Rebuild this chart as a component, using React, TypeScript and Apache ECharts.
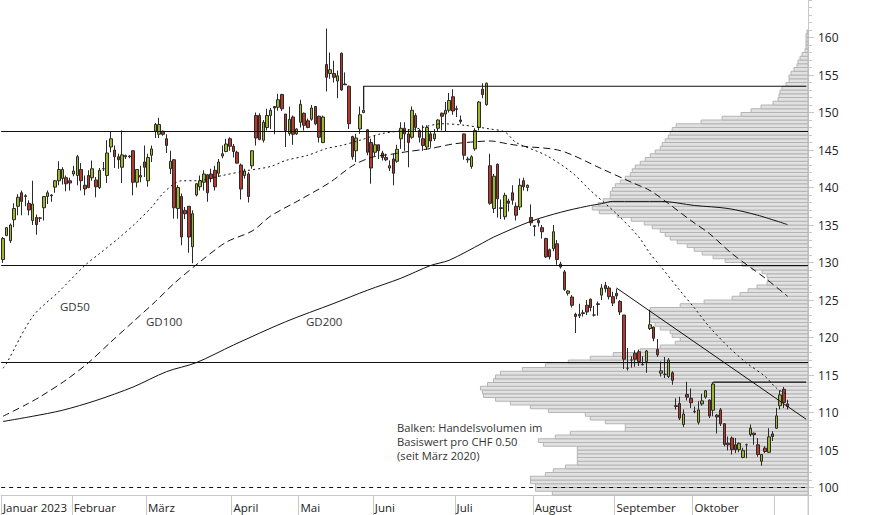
import React, { useEffect, useRef } from 'react';
import * as echarts from 'echarts';

// ---------- categories (trading-day slots) ----------
const SLOT_COUNT = 217;
const monthStartSlots = [0, 19, 39, 62, 80, 100, 122, 143, 165, 186, 208];
const monthLabels = ['Januar 2023', 'Februar', 'März', 'April', 'Mai', 'Juni', 'Juli', 'August', 'September', 'Oktober', ''];

// ---------- candles: [open, close, low, high] ----------
const candles = [
  [130.4, 133.2, 129.95, 133.4], [133.6, 134.65, 133.5, 134.7], [132.9, 135.0, 132.6, 135.2], [135.7, 137.2, 134.7, 137.9],
  [137.5, 138.7, 136.3, 139.1], [139.3, 138.15, 136.3, 139.6], [138.9, 138.8, 137.5, 139.1], [137.9, 137.0, 136.3, 138.3],
  [135.6, 137.8, 135.0, 140.9], [136.0, 135.05, 133.7, 136.4], [135.9, 135.95, 135.4, 136.05], [137.3, 138.8, 135.6, 138.8],
  [138.8, 139.3, 137.8, 139.6], [138.9, 139.0, 138.1, 139.1], [140.05, 140.9, 139.3, 141.0], [140.9, 142.4, 140.3, 143.5],
  [141.2, 142.4, 140.4, 142.7], [141.3, 140.5, 139.5, 141.6], [140.9, 140.6, 139.6, 141.3], [141.8, 142.2, 141.5, 142.9],
  [141.6, 144.1, 140.3, 144.35], [142.4, 140.9, 139.6, 143.25], [140.3, 139.8, 138.95, 141.6], [141.6, 140.0, 139.9, 142.3],
  [141.3, 142.5, 140.9, 143.6], [141.0, 140.1, 138.7, 141.4], [140.0, 142.3, 139.8, 142.6], [142.5, 142.5, 142.2, 143.4],
  [141.6, 144.6, 140.6, 146.3], [145.4, 146.5, 144.7, 147.4], [145.0, 144.1, 142.6, 145.6], [144.1, 143.7, 142.5, 144.5],
  [142.7, 144.35, 140.6, 147.6], [144.25, 144.1, 143.8, 144.4], [144.1, 144.2, 143.9, 144.3], [144.9, 140.7, 138.95, 145.0],
  [140.7, 142.4, 140.0, 142.4], [141.4, 141.6, 140.7, 142.9], [143.4, 142.7, 141.4, 145.6], [140.9, 144.0, 140.1, 144.5],
  [144.3, 145.15, 143.4, 145.6], [147.5, 148.4, 146.6, 148.6], [147.1, 148.4, 146.6, 149.3], [147.5, 147.1, 146.9, 147.6],
  [146.5, 145.6, 144.6, 147.1], [142.5, 143.5, 141.8, 144.9], [143.7, 137.3, 135.85, 143.8], [137.2, 140.0, 135.85, 140.3],
  [138.8, 133.4, 132.3, 139.2], [136.95, 136.5, 135.8, 137.4], [137.5, 133.4, 131.3, 137.5], [132.1, 136.5, 129.9, 136.95],
  [139.0, 140.5, 138.8, 140.6], [140.1, 140.9, 139.6, 141.6], [140.7, 141.8, 139.6, 142.3], [141.7, 139.3, 138.1, 141.8],
  [141.8, 141.2, 140.7, 142.5], [142.3, 140.1, 139.6, 142.9], [141.9, 143.4, 141.4, 143.8], [144.2, 144.5, 143.9, 145.6],
  [144.8, 145.8, 144.7, 146.5], [146.5, 145.5, 144.9, 146.7], [145.5, 144.8, 144.0, 145.8], [144.7, 143.25, 143.2, 144.9],
  [143.0, 139.8, 138.4, 143.2], [141.6, 142.2, 141.2, 142.5], [141.8, 138.8, 138.0, 142.05], [142.9, 144.9, 142.5, 145.0],
  [149.6, 146.6, 145.6, 150.0], [149.6, 146.4, 146.3, 149.9], [146.3, 148.7, 146.0, 149.0], [148.0, 149.6, 147.6, 150.5],
  [149.6, 150.3, 147.8, 150.6], [150.8, 150.6, 147.1, 150.8], [150.7, 151.7, 150.25, 152.5], [152.4, 150.5, 150.2, 152.5],
  [149.8, 147.6, 145.4, 149.8], [147.2, 149.1, 146.9, 150.8], [149.4, 147.1, 145.7, 149.6], [147.15, 147.8, 147.0, 147.9],
  [148.7, 151.1, 148.0, 151.7], [149.9, 148.3, 147.6, 150.0], [148.9, 148.0, 147.9, 149.2], [149.1, 150.6, 148.9, 151.0],
  [150.8, 148.5, 148.3, 150.8], [149.5, 146.7, 146.0, 149.6], [146.0, 149.4, 145.9, 149.6], [156.4, 154.7, 152.8, 161.2],
  [155.2, 155.7, 154.5, 158.0], [155.2, 154.7, 154.0, 156.9], [154.2, 154.9, 151.9, 155.6], [157.9, 153.0, 152.9, 158.0],
  [153.8, 153.7, 153.66, 155.35], [153.5, 148.5, 147.8, 153.6], [146.8, 144.1, 143.7, 146.9], [144.9, 146.6, 143.4, 147.15],
  [147.8, 149.7, 147.15, 150.8], [150.0, 150.3, 149.9, 150.4], [147.7, 144.7, 144.3, 147.8], [146.0, 142.6, 140.5, 146.5],
  [144.7, 145.7, 144.2, 146.9], [145.7, 144.9, 143.8, 145.7], [144.6, 144.0, 143.6, 144.9], [144.0, 143.7, 143.5, 144.5],
  [142.6, 142.9, 142.2, 143.6], [143.8, 141.9, 140.3, 144.5], [143.5, 145.1, 143.3, 145.7], [146.5, 147.9, 145.15, 148.7],
  [147.9, 147.15, 144.9, 148.7], [147.15, 146.0, 142.7, 147.8], [146.7, 150.3, 146.5, 150.8], [149.6, 148.0, 147.4, 149.9],
  [147.6, 146.7, 146.0, 147.8], [146.5, 145.6, 144.9, 148.3], [145.4, 148.0, 145.0, 148.3], [147.15, 146.2, 145.3, 147.4],
  [146.5, 147.15, 146.2, 147.8], [147.9, 149.0, 147.5, 149.1], [149.9, 149.5, 147.6, 150.0], [149.8, 150.3, 147.4, 151.4],
  [150.3, 151.6, 150.0, 152.6], [152.1, 150.2, 149.7, 153.1], [150.5, 150.4, 149.4, 150.9], [149.0, 148.8, 148.5, 149.6],
  [147.15, 144.3, 143.7, 147.2], [143.8, 143.7, 143.3, 144.1], [142.8, 144.1, 142.5, 144.3], [145.15, 147.6, 144.9, 147.9],
  [148.0, 151.4, 147.6, 151.5], [153.1, 152.4, 151.9, 153.9], [151.05, 153.9, 150.9, 154.0], [142.9, 137.9, 137.7, 144.5],
  [137.2, 141.5, 136.6, 141.8], [143.1, 138.5, 136.0, 143.2], [137.2, 137.3, 135.8, 138.4], [136.1, 138.95, 135.7, 139.3],
  [138.2, 137.9, 136.8, 138.5], [139.3, 138.3, 137.7, 140.3], [137.5, 136.3, 135.6, 138.0], [137.4, 140.3, 137.0, 141.2],
  [140.9, 140.1, 139.6, 141.3], [140.0, 140.3, 139.5, 140.4], [136.0, 135.3, 134.9, 137.75], [134.8, 134.9, 133.5, 135.0],
  [135.6, 135.3, 134.8, 135.8], [134.65, 134.1, 133.2, 135.0], [133.2, 130.75, 130.6, 133.3], [131.7, 130.75, 130.4, 131.85],
  [131.85, 134.1, 131.5, 135.0], [132.5, 130.4, 129.7, 133.0], [129.8, 129.4, 129.2, 130.1], [128.75, 126.4, 126.2, 129.0],
  [125.9, 126.2, 125.6, 126.3], [125.4, 124.3, 124.0, 125.65], [123.1, 122.8, 120.6, 123.3], [123.1, 122.9, 122.6, 124.5],
  [123.2, 123.3, 122.8, 123.7], [124.3, 123.4, 123.0, 125.0], [125.1, 124.0, 123.5, 125.2], [123.0, 123.0, 122.8, 124.2],
  [124.4, 124.5, 122.9, 124.8], [125.65, 126.6, 125.0, 127.1], [126.95, 126.5, 126.0, 127.4], [126.6, 125.45, 125.07, 126.85],
  [125.45, 124.6, 124.2, 126.1], [125.9, 125.55, 125.1, 126.5], [124.8, 123.4, 123.0, 125.0], [123.0, 117.1, 115.8, 123.0],
  [115.9, 115.9, 115.6, 118.6], [117.0, 117.0, 116.0, 117.5], [117.9, 117.1, 116.1, 118.3], [118.1, 116.8, 116.2, 118.4],
  [116.4, 116.35, 116.3, 117.5], [116.8, 118.2, 115.3, 118.35], [121.2, 121.7, 121.0, 123.7], [121.4, 119.9, 119.5, 121.45],
  [118.4, 117.7, 117.4, 119.8], [115.25, 115.55, 114.8, 116.8], [115.1, 115.1, 114.6, 117.4], [114.8, 117.0, 114.6, 117.25],
  [115.3, 114.3, 113.7, 115.5], [110.9, 110.8, 110.4, 111.9], [111.2, 109.25, 109.0, 112.1], [108.4, 109.8, 108.06, 110.4],
  [112.4, 112.05, 111.6, 114.1], [111.9, 111.3, 110.6, 113.2], [110.15, 110.1, 109.9, 110.8], [108.7, 110.35, 108.4, 111.5],
  [111.15, 111.55, 110.9, 112.5], [112.05, 112.9, 111.85, 113.0], [111.65, 109.55, 109.25, 111.75], [110.3, 113.8, 109.5, 114.05],
  [109.65, 109.4, 107.2, 109.8], [110.35, 108.5, 108.2, 110.6], [108.5, 105.75, 105.5, 108.6], [105.9, 105.7, 104.95, 106.8],
  [106.6, 105.05, 104.4, 106.8], [105.7, 105.05, 104.6, 106.6], [105.05, 105.9, 104.7, 106.0], [104.0, 104.95, 103.9, 105.3],
  [105.7, 105.7, 103.9, 105.85], [107.05, 107.9, 106.8, 108.4], [107.25, 107.05, 105.7, 107.3], [105.7, 104.4, 104.1, 106.6],
  [103.5, 104.4, 102.9, 104.4], [105.25, 104.8, 104.6, 105.5], [104.7, 106.75, 104.6, 107.9], [107.15, 106.8, 106.2, 107.5],
  [107.9, 109.55, 107.8, 110.6], [110.9, 112.35, 110.4, 112.95], [113.1, 111.35, 110.6, 113.4], [111.15, 110.8, 110.4, 111.7],
];

// ---------- moving averages: [slot, value] ----------
const gd50 = [
  [0, 115.9], [1, 116.6], [8, 122.8], [15, 126.1], [22, 129.6], [26, 131.2], [31, 133.2], [36, 135.4], [40, 137.4],
  [43, 139.2], [46, 140.5], [48, 140.9], [52, 140.9], [59, 141.6], [65, 142.2], [72, 142.8], [76, 143.6], [82, 144.3],
  [87, 145.2], [91, 145.6], [96, 146.3], [102, 147.2], [111, 147.8], [118, 148.5], [124, 148.3], [131, 147.8],
  [135, 147.4], [138, 146.0], [146, 144.3], [153, 142.0], [158, 139.6], [165, 136.5], [171, 133.4], [174, 131.2],
  [177, 129.4], [182, 126.3], [186, 123.9], [190, 121.4], [195, 118.8], [200, 116.6], [205, 114.8], [208, 113.25], [211, 112.35],
];
const gd100 = [
  [0, 109.5], [6, 111.0], [10, 112.1], [17, 114.35], [23, 116.65], [29, 119.4], [35, 122.1], [41, 124.8], [46, 127.2],
  [53, 130.1], [60, 132.7], [67, 134.2], [72, 136.2], [80, 138.4], [88, 140.7], [94, 142.9], [99, 144.0], [104, 144.4],
  [109, 144.8], [115, 145.2], [121, 145.8], [127, 146.1], [131, 146.2], [136, 145.8], [140, 145.5], [150, 144.9],
  [161, 142.5], [169, 140.7], [174, 139.6], [179, 137.85], [185, 135.6], [190, 133.85], [196, 131.2], [205, 127.9], [211, 125.5],
];
const gd200 = [
  [0, 108.8], [8, 109.5], [16, 110.3], [25, 111.6], [35, 113.4], [44, 115.45], [52, 116.65], [62, 119.0], [76, 122.1],
  [89, 124.55], [98, 126.3], [107, 127.9], [115, 129.6], [120, 130.3], [129, 132.6], [132, 133.4], [142, 135.5],
  [150, 136.7], [157, 137.5], [161, 137.85], [164, 138.15], [177, 138.15], [186, 137.6], [195, 137.2], [203, 136.3], [211, 135.05],
];

// ---------- support / resistance ----------
const fullLevels = [147.5, 129.6, 116.7];
const resistanceHigh = [[97, 150.4], [97, 153.5], [216, 153.5]];
const resistanceLow = [[191, 114.05], [216, 114.05]];
const trendLine = [[165, 126.6], [216, 109.1]];
const dashedLevel = 100;

// ---------- volume profile (per CHF 0.50 bin, lower bound) ----------
const profilePrice = [
  99.0, 99.5, 100.0, 100.5, 101.0, 101.5, 102.0, 102.5, 103.0, 103.5, 104.0, 104.5, 105.0, 105.5, 106.0, 106.5,
  107.0, 107.5, 108.0, 108.5, 109.0, 109.5, 110.0, 110.5, 111.0, 111.5, 112.0, 112.5, 113.0, 113.5, 114.0, 114.5,
  115.0, 115.5, 116.0, 116.5, 117.0, 117.5, 118.0, 118.5, 119.0, 119.5, 120.0, 120.5, 121.0, 121.5, 122.0, 122.5,
  123.0, 123.5, 124.0, 124.5, 125.0, 125.5, 126.0, 126.5, 127.0, 127.5, 128.0, 128.5, 129.0, 129.5, 130.0, 130.5,
  131.0, 131.5, 132.0, 132.5, 133.0, 133.5, 134.0, 134.5, 135.0, 135.5, 136.0, 136.5, 137.0, 137.5, 138.0, 138.5,
  139.0, 139.5, 140.0, 140.5, 141.0, 141.5, 142.0, 142.5, 143.0, 143.5, 144.0, 144.5, 145.0, 145.5, 146.0, 146.5,
  147.0, 147.5, 148.0, 148.5, 149.0, 149.5, 150.0, 150.5, 151.0, 151.5, 152.0, 152.5, 153.0, 153.5, 154.0, 154.5,
  155.0, 155.5, 156.0, 156.5, 157.0, 157.5, 158.0, 158.5, 159.0, 159.5, 160.0, 160.5,
];
const profileVolume = [
  256, 273, 273, 278, 278, 263, 255, 243, 231, 231, 231, 231, 231, 265, 270, 253,
  238, 183, 183, 203, 218, 223, 260, 278, 298, 313, 325, 326, 328, 321, 315, 313,
  308, 286, 263, 240, 218, 195, 168, 148, 133, 128, 136, 138, 148, 153, 158, 158,
  158, 158, 128, 104, 76, 68, 60, 51, 41, 40, 41, 46, 56, 66, 83, 95,
  106, 114, 121, 131, 138, 143, 148, 156, 164, 177, 191, 209, 216, 210, 205, 198,
  198, 196, 193, 188, 183, 178, 176, 173, 168, 163, 158, 153, 148, 146, 143, 140,
  138, 136, 132, 107, 86, 67, 57, 47, 35, 30, 29, 28, 26, 22, 19, 19,
  17, 14, 11, 10, 8, 6, 3, 2, 2, 2, 2, 1,
];
const PROFILE_MAX = 808;

const yLabelValues = [100, 105, 110, 115, 120, 125, 130, 135, 140, 145, 150, 155, 160];
const yMinorValues = Array.from({ length: 67 }, (_, i) => 99 + i);

const FONT = '"Open Sans", "Noto Sans", sans-serif';
const INK = '#222';

export default function App() {
  const ref = useRef<HTMLDivElement>(null);

  useEffect(() => {
    const chart = echarts.init(ref.current!, null, { renderer: 'svg' });
    const cats = Array.from({ length: SLOT_COUNT }, (_, i) => String(i));
    const lineBase = { type: 'line', showSymbol: false, symbol: 'none', silent: true, z: 4 } as any;

    const option: any = {
      animation: false,
      grid: { left: 0, right: 66, top: 0, bottom: 20, containLabel: false },
      xAxis: [
        {
          type: 'category',
          data: cats,
          boundaryGap: true,
          axisLine: { show: true, lineStyle: { color: '#c8c8c8', width: 1 } },
          axisTick: {
            show: true,
            interval: (i: number) => monthStartSlots.includes(i),
            length: 20,
            lineStyle: { color: '#c8c8c8' },
          },
          axisLabel: {
            interval: (i: number) => monthStartSlots.includes(i),
            formatter: (_v: string, i: number) => {
              const k = monthStartSlots.indexOf(i);
              return k >= 0 ? monthLabels[k] : '';
            },
            align: 'left',
            margin: 6,
            color: INK,
            fontSize: 11.5,
            fontFamily: FONT,
          },
          splitLine: { show: false },
        },
        { type: 'value', min: 0, max: PROFILE_MAX, inverse: true, show: false, position: 'top' },
      ],
      yAxis: [
        {
          type: 'value',
          position: 'right',
          min: 99,
          max: 165,
          axisLine: { show: true, lineStyle: { color: '#c8c8c8' } },
          axisTick: { show: true, customValues: yLabelValues, length: 6, lineStyle: { color: '#c8c8c8' } },
          axisLabel: { customValues: yLabelValues, color: INK, fontSize: 12, fontFamily: FONT, margin: 10 },
          splitLine: { show: false },
        },
        {
          type: 'value',
          position: 'right',
          min: 99,
          max: 165,
          axisLine: { show: false },
          axisTick: { show: true, customValues: yMinorValues, length: 4, lineStyle: { color: '#c8c8c8' } },
          axisLabel: { show: false },
          splitLine: { show: false },
        },
      ],
      series: [
        {
          type: 'custom',
          xAxisIndex: 1,
          yAxisIndex: 0,
          silent: true,
          z: 1,
          data: profilePrice.map((p, i) => [profileVolume[i], p]),
          renderItem: (_params: any, api: any) => {
            const v = api.value(0);
            const p = api.value(1);
            const a = api.coord([v, p]);
            const b = api.coord([0, p + 0.5]);
            return {
              type: 'rect',
              shape: { x: a[0], y: b[1], width: b[0] - a[0], height: a[1] - b[1] },
              style: { fill: '#e1e1e1', stroke: '#b4b4b4', lineWidth: 1 },
            };
          },
        },
        {
          type: 'candlestick',
          data: candles,
          barWidth: 3,
          z: 3,
          silent: true,
          itemStyle: {
            color: '#9cb82a',
            color0: '#b8392b',
            borderColor: '#2a2a2a',
            borderColor0: '#2a2a2a',
            borderWidth: 1,
          },
          markLine: {
            silent: true,
            symbol: 'none',
            label: { show: false },
            lineStyle: { color: '#111', width: 1.2, type: 'solid' },
            data: [
              ...fullLevels.map((y) => ({ yAxis: y })),
              { yAxis: dashedLevel, lineStyle: { type: [4, 4], width: 1, color: '#111' } },
            ],
          },
        },
        { ...lineBase, data: gd50, smooth: 0.3, lineStyle: { color: '#111', width: 1, type: [2, 3] } },
        { ...lineBase, data: gd100, smooth: 0.3, lineStyle: { color: '#111', width: 1, type: [7, 4] } },
        { ...lineBase, data: gd200, smooth: 0.3, lineStyle: { color: '#111', width: 1 } },
        { ...lineBase, data: resistanceHigh, lineStyle: { color: '#111', width: 1.2 } },
        { ...lineBase, data: resistanceLow, lineStyle: { color: '#111', width: 1.2 } },
        { ...lineBase, data: trendLine, lineStyle: { color: '#111', width: 1 } },
      ],
      graphic: [
        { type: 'line', shape: { x1: 808, y1: 495, x2: 808, y2: 515 }, style: { stroke: '#c8c8c8', lineWidth: 1 } },
        { type: 'text', x: 60, y: 306.5, style: { text: 'GD50', fill: '#333', font: `11.5px ${FONT}`, verticalAlign: 'middle' } },
        { type: 'text', x: 146, y: 321, style: { text: 'GD100', fill: '#333', font: `11.5px ${FONT}`, verticalAlign: 'middle' } },
        { type: 'text', x: 306, y: 321.5, style: { text: 'GD200', fill: '#333', font: `11.5px ${FONT}`, verticalAlign: 'middle' } },
        {
          type: 'text',
          x: 397,
          y: 420,
          style: {
            text: 'Balken: Handelsvolumen im\nBasiswert pro CHF 0.50\n(seit März 2020)',
            fill: '#333',
            font: `11.2px ${FONT}`,
            lineHeight: 14,
            verticalAlign: 'top',
          },
        },
      ],
    };

    chart.setOption(option);
    return () => chart.dispose();
  }, []);

  return (
    <div
      ref={ref}
      style={{ position: 'absolute', left: 0, top: 0, width: 874, height: 515, background: '#fff' }}
    />
  );
}
